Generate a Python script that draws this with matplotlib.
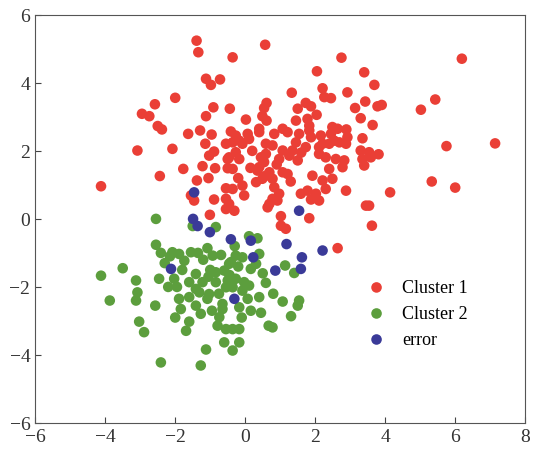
import matplotlib.pyplot as plt
import numpy as np

# pontos do cluster 1 (vermelho)
red_x = [-1.39, -1.34, -0.36, -1.12, -0.72, -0.98, -2.0, -2.58, -2.95, -2.74, -0.91, -1.12, -0.44,
         -2.5, -2.38, -1.63, -1.29, -0.96, -0.41,
         0.57, 2.75, 2.05, 3.4, 3.69, 2.92, 1.33, 2.21, 2.26, 2.45, 0.61, 0.54, 1.73, 1.5, 1.88,
         3.43, 3.14, 3.78, 0.49, 0.61, 0.02, 2.04, 1.78, 1.45, 3.3, 3.64, 1.83, 2.49, 2.89, 2.45,
         6.19, 5.43, 5.02, 3.9,
         5.75, 7.14, 3.81, 3.59, 5.33, 6.0, 4.14, 3.54, 3.62,
         -3.08, -2.08, -1.14, -0.89, -1.03, -0.55, -0.36, -0.27, -1.77, -1.22, -0.86, -0.5, -0.5,
         -2.44, -1.05, -1.38, -4.12, -0.55, -0.36, -1.55, -1.46, -0.89, -0.55, -0.46, -0.31, -0.55, -1.01,
         -0.27, 0.07, 0.4, 0.83, 1.21, 1.54, 1.88, 2.16, 2.92, 3.35,
         -0.08, 0.59, 1.07, 1.45, 1.73, 2.11, 2.4, 2.69, 2.88, 3.3, 3.54,
         -0.46, -0.17, 0.45, 0.54, 0.97, 1.26, 1.5, 2.11, 2.3, 2.59, 2.83, 3.35, 3.4,
         -0.36, 0.35, 0.69, 1.07, 1.21, 0.49, 0.78, 0.31, 1.92, 2.4, 2.49, 2.78, 2.21,
         -0.08, -0.03, 0.83, 0.97, 0.92, 1.59, 1.78, 2.02, 2.11, 2.3, 2.88, 0.78, 0.64, 3.45, 1.88,
         1.02, 1.83, 1.02, 1.16, 2.64,
         0.4, 1.07, 1.83, 2.64, -0.17, 0.11, 0.59, 0.78, 1.35, 2.21, 2.54, 0.4, 0.59, 0.69,
         0.2, 1.6, 0.9, 1.3, 0.15, -0.2]
red_y = [5.24, 4.90, 4.75, 4.12, 4.10, 3.94, 3.56, 3.37, 3.09, 3.02, 3.28, 3.02, 3.24,
         2.73, 2.63, 2.5, 2.6, 2.48, 2.57,
         5.12, 4.74, 4.34, 4.31, 3.94, 3.72, 3.71, 3.84, 3.58, 3.55, 3.41, 3.26, 3.41, 3.24, 3.31,
         3.45, 3.26, 3.31, 3.02, 2.89, 2.92, 3.06, 2.94, 2.89, 2.96, 2.76, 2.74, 2.7, 2.63, 2.5,
         4.71, 3.51, 3.21, 3.35,
         2.14, 2.22, 1.9, 1.81, 1.1, 0.92, 0.78, 0.39, -0.2,
         2.01, 2.06, 2.21, 1.98, 1.86, 2.21, 2.25, 1.96, 1.47, 1.55, 1.49, 1.76, 1.49,
         1.26, 1.2, 1.13, 0.96, 0.9, 0.88, 0.69, 0.54, 0.57, 0.59, 0.44, 0.24, 0.29, 0.12,
         2.45, 2.5, 2.55, 2.5, 2.55, 2.5, 2.4, 2.45, 2.4, 2.37,
         2.21, 2.21, 2.01, 2.25, 2.11, 2.11, 2.21, 2.25, 2.21, 2.01, 1.96,
         1.81, 1.76, 1.81, 1.67, 1.76, 1.86, 1.72, 1.91, 1.81, 1.76, 1.72, 1.76, 1.57,
         1.47, 1.42, 1.37, 1.37, 1.32, 1.18, 1.18, 1.08, 1.27, 1.47, 1.18, 1.52, 1.13,
         0.98, 0.69, 0.93, 0.74, 0.54, 0.74, 0.83, 0.74, 0.54, 0.88, 0.83, 0.59, 0.34, 0.39, 0.57,
         0.08, 0.02, -0.2, -0.29, -0.86,
         2.65, 2.65, 2.6, 2.65, 2.3, 2.35, 1.91, 2.16, 2.01, 2.21, 2.3, 1.52, 1.27, 0.44,
         2.0, 1.95, 1.6, 1.1, 1.5, 1.2]

# pontos do cluster 2 (verde)
green_x = [-2.55, -1.5, -0.84, 0.35, 0.11, 0.4, -0.27, -0.08, -0.41, 0.31, 0.16, 1.4, 1.14, 0.59,
           -0.27, -0.36, 0.11, -0.08, 0.07, -0.17, 1.07, 1.54, 1.5, 0.45, 1.31, 0.67, 0.78, -0.36,
           -0.17, -0.17, -0.36,
           -2.55, -2.41, -2.08, -1.89, -1.74, -1.55, -1.08, -0.93, -0.69, -0.46, -3.5, -4.12, -3.12,
           -2.46, -2.03, -1.41, -1.6, -1.22, -0.84, -0.6, -0.84, -0.55, -1.41, -1.03, -3.08, -3.12,
           -3.87, -2.57, -1.89, -1.84, -1.41, -1.08, -0.65, -0.65, -1.27, -3.03, -1.6, -2.89, -1.69,
           -0.79, -0.55, -0.6, -1.12, -2.41, -1.27,
           -0.5, -0.03, -1.31, -0.74, 0.16,
           -1.8, -2.2, -1.0, -0.2, -0.75, -1.95, -2.3, 0.5, -1.2, -0.3, -0.95, -2.0, 0.4, -1.6, -0.1,
           -1.35, -0.45, 0.8, -2.15, -1.05]
green_y = [0.0, -0.21, -0.24, -0.57, -0.51, -1.03, -1.08, -1.13, -1.27, -1.32, -1.47, -1.59, -1.37, -1.88,
           -1.76, -2.01, -1.96, -2.11, -2.35, -2.6, -2.43, -2.4, -2.55, -2.76, -2.86, -3.14, -3.19, -3.24,
           -3.24, -3.63, -3.87,
           -0.76, -1.0, -0.98, -1.03, -1.23, -0.98, -0.86, -1.08, -1.06, -1.32, -1.45, -1.67, -1.81,
           -1.76, -1.76, -1.62, -1.86, -1.86, -1.57, -1.52, -1.86, -2.01, -2.06, -2.21, -2.16, -2.4,
           -2.4, -2.55, -2.35, -2.65, -2.55, -2.35, -2.5, -2.65, -2.79, -3.02, -3.02, -3.33, -3.29,
           -3.14, -3.24, -3.63, -3.84, -4.22, -4.31,
           -1.81, -1.86, -2.16, -2.89, -2.7,
           -1.5, -2.0, -1.5, -1.4, -2.2, -2.0, -1.3, -1.6, -1.2, -0.8, -2.7, -2.9, -2.3, -2.3, -2.9,
           -1.0, -1.65, -2.2, -1.1, -1.7]

# pontos classificados errado (azul)
err_x = [-1.46, -1.49, -1.36, -1.01, -0.41, 1.54, 0.16, 1.18, 2.21, 0.23, 1.62, 1.59, 0.86, -0.31, -2.12]
err_y = [0.78, 0.0, -0.21, -0.39, -0.6, 0.24, -0.64, -0.74, -0.93, -1.13, -1.13, -1.47, -1.52, -2.35, -1.47]

plt.rcParams['font.family'] = ['Liberation Serif', 'DejaVu Serif']

fig = plt.figure(figsize=(5.42, 4.52), dpi=100)
ax = fig.add_axes([0.065, 0.062, 0.904, 0.903])

ax.scatter(red_x, red_y, s=58, color='#ea3f36', edgecolors='none', label='Cluster 1')
ax.scatter(green_x, green_y, s=58, color='#5c9e3d', edgecolors='none', label='Cluster 2')
ax.scatter(err_x, err_y, s=58, color='#3a3a98', edgecolors='none', label='error')

ax.set_xlim(-6, 8)
ax.set_ylim(-6, 6)
ax.set_xticks(np.arange(-6, 9, 2))
ax.set_yticks(np.arange(-6, 7, 2))
ax.tick_params(direction='in', length=4, labelsize=14, colors='#444444', labelcolor='#333333')
for sp in ax.spines.values():
    sp.set_color('#555555')

ax.legend(loc='upper left', bbox_to_anchor=(0.645, 0.37), frameon=False, fontsize=13,
          handletextpad=0.4, labelspacing=0.5, borderaxespad=0)

fig.savefig('out.png', dpi=100)
